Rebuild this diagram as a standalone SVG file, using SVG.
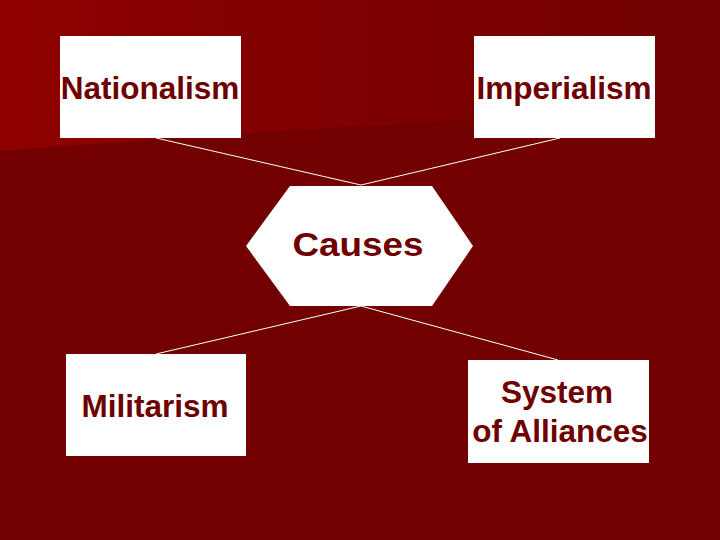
<svg xmlns="http://www.w3.org/2000/svg" width="720" height="540" viewBox="0 0 720 540">
<defs>
<linearGradient id="topg" x1="0" y1="0" x2="1" y2="0">
<stop offset="0" stop-color="#8f0000"/>
<stop offset="0.5" stop-color="#7e0000"/>
<stop offset="0.9" stop-color="#730000"/>
</linearGradient>
</defs>
<style>
.box{fill:#ffffff;}
.lbl{font-family:"Liberation Sans",Arial,sans-serif;font-weight:bold;font-size:31.5px;fill:#6e0000;text-anchor:middle;}
.conn line{stroke:#ffffff;stroke-width:1;}
</style>
<rect x="0" y="0" width="720" height="540" fill="#720000"/>
<path d="M0,0 H720 V112 Q420,118 0,151 Z" fill="url(#topg)"/>
<g class="conn" id="connectors">
<line x1="156" y1="138" x2="361" y2="185"/>
<line x1="560" y1="138" x2="361" y2="185"/>
<line x1="156" y1="354" x2="361" y2="306"/>
<line x1="558" y1="360" x2="361" y2="306"/>
</g>
<g id="nationalism">
<rect class="box" x="60" y="36" width="181" height="102"/>
<text class="lbl" x="150" y="99">Nationalism</text>
</g>
<g id="imperialism">
<rect class="box" x="474" y="36" width="181" height="102"/>
<text class="lbl" x="564" y="99">Imperialism</text>
</g>
<g id="causes">
<polygon class="box" points="290,186 432,186 473,246 432,306 290,306 246,246"/>
<text class="lbl" x="358" y="256" style="font-size:34px" textLength="131" lengthAdjust="spacingAndGlyphs">Causes</text>
</g>
<g id="militarism">
<rect class="box" x="66" y="354" width="180" height="102"/>
<text class="lbl" x="155" y="417">Militarism</text>
</g>
<g id="alliances">
<rect class="box" x="468" y="360" width="181" height="103"/>
<text class="lbl" x="557" y="403">System</text>
<text class="lbl" x="560" y="442">of Alliances</text>
</g>
</svg>
